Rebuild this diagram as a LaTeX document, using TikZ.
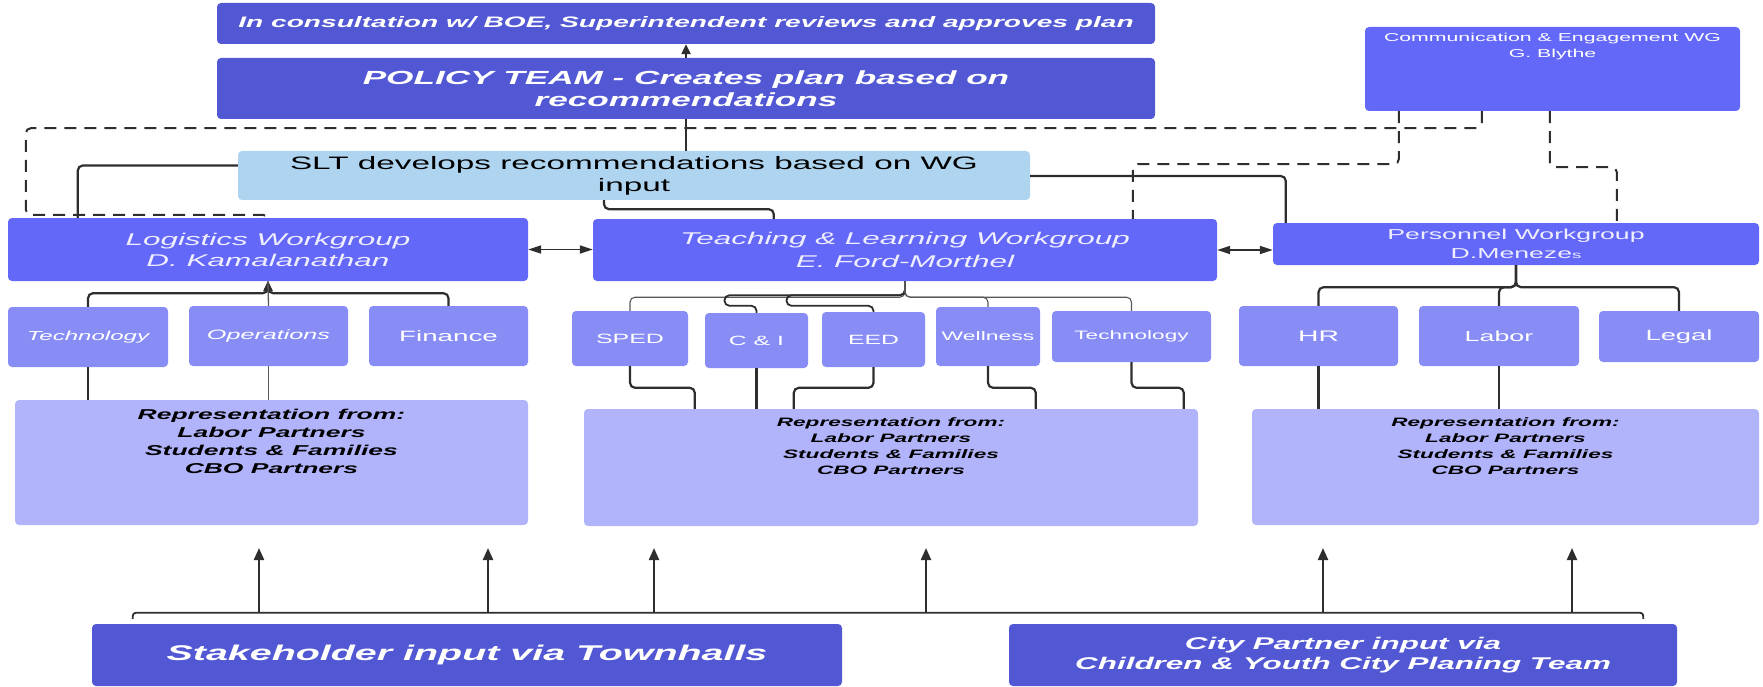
\documentclass[tikz,border=0pt]{standalone}
\usepackage{fontspec}
\setmainfont{Liberation Sans}[FakeStretch=1.85]
\usetikzlibrary{calc,arrows.meta}
\definecolor{darkbox}{RGB}{82,88,212}
\definecolor{wgbox}{RGB}{100,104,249}
\definecolor{subbox}{RGB}{136,141,246}
\definecolor{repbox}{RGB}{178,180,251}
\definecolor{sltc}{RGB}{175,212,239}
\definecolor{linec}{RGB}{46,46,46}
\definecolor{wgtext}{RGB}{238,238,255}
\tikzset{
  box/.style={rounded corners=4pt, inner sep=0pt, align=center, text=white},
  darkb/.style={box, fill=darkbox},
  wgb/.style={box, fill=wgbox, text=wgtext},
  subb/.style={box, fill=subbox, text=white},
  repb/.style={box, fill=repbox},
  reptext/.style={align=center, inner sep=0pt, text=black},
  conn/.style={draw=linec, line width=2.2pt, rounded corners=5pt},
  thinc/.style={draw=linec!80, line width=1.1pt, rounded corners=5pt},
  dconn/.style={draw=linec, line width=2pt, dash pattern=on 12pt off 8pt, rounded corners=5pt},
  arr/.style={-{Triangle[length=10pt,width=9pt]}},
  darr/.style={{Triangle[length=13pt,width=8pt]}-{Triangle[length=13pt,width=8pt]}},
  upc/.style={draw=linec, line width=2.2pt, -{Triangle[length=12pt,width=10pt]}}
}
\begin{document}
\begin{tikzpicture}[x=1pt,y=-1pt]
\useasboundingbox (0,0) rectangle (1763,687);

% top level
\node[darkb, minimum width=938pt, minimum height=41pt, font=\fontsize{15.2}{18}\selectfont\bfseries\itshape] (top) at (686,23.5) {In consultation w/ BOE, Superintendent reviews and approves plan};
\node[darkb, minimum width=938pt, minimum height=61pt, font=\fontsize{19}{22}\selectfont\bfseries\itshape] (policy) at (686,88.5) {POLICY TEAM - Creates plan based on\\recommendations};
\node[box, fill=sltc, text=black, minimum width=792pt, minimum height=49pt, font=\fontsize{18}{22}\selectfont] (slt) at (634,175.5) {SLT develops recommendations based on WG\\input};
\node[wgb, minimum width=375pt, minimum height=84pt] (comm) at (1552.5,69) {};
\node[align=center, inner sep=0pt, text=white, font=\fontsize{11.5}{16}\selectfont] (commt) at (1552.5,47) {Communication \& Engagement WG\\G. Blythe};

% workgroups
\node[wgb, minimum width=520pt, minimum height=63pt, font=\fontsize{17}{21}\selectfont\itshape] (logi) at (268,249.5) {Logistics Workgroup\\D. Kamalanathan};
\node[wgb, minimum width=624pt, minimum height=62pt, font=\fontsize{17}{23}\selectfont\itshape] (tl) at (905,250) {Teaching \& Learning Workgroup\\E. Ford-Morthel};
\node[wgb, minimum width=486pt, minimum height=42pt, font=\fontsize{14.4}{19}\selectfont] (pers) at (1516,244) {Personnel Workgroup\\D.Meneze{\fontsize{10}{10}\selectfont s}};

% sub-groups
\node[subb, minimum width=160pt, minimum height=60pt, font=\fontsize{13}{15}\selectfont\itshape] (tech1) at (88,337) {Technology};
\node[subb, minimum width=159pt, minimum height=60pt, font=\fontsize{13.6}{15}\selectfont\itshape] (ops) at (268.5,336) {Operations};
\node[subb, minimum width=159pt, minimum height=60pt, font=\fontsize{15}{17}\selectfont] (fin) at (448.5,336) {Finance};
\node[subb, minimum width=116pt, minimum height=55pt, font=\fontsize{13.5}{15}\selectfont] (sped) at (630,338.5) {SPED};
\node[subb, minimum width=103pt, minimum height=55pt, font=\fontsize{13.4}{15}\selectfont] (ci) at (756.5,340.5) {C \& I};
\node[subb, minimum width=103pt, minimum height=55pt, font=\fontsize{13.4}{15}\selectfont] (eed) at (873.5,339.5) {EED};
\node[subb, minimum width=104pt, minimum height=59pt, font=\fontsize{12.4}{15}\selectfont] (well) at (988,336.5) {Wellness};
\node[subb, minimum width=159pt, minimum height=51pt, font=\fontsize{12.2}{15}\selectfont] (tech2) at (1131.5,336.5) {Technology};
\node[subb, minimum width=159pt, minimum height=60pt, font=\fontsize{15.3}{17}\selectfont] (hr) at (1318.5,336) {HR};
\node[subb, minimum width=160pt, minimum height=60pt, font=\fontsize{14.5}{17}\selectfont] (labor) at (1499,336) {Labor};
\node[subb, minimum width=160pt, minimum height=51pt, font=\fontsize{14.8}{17}\selectfont] (legal) at (1679,336.5) {Legal};

% representation boxes
\node[repb, minimum width=513pt, minimum height=125pt] (repL) at (271.5,462.5) {};
\node[repb, minimum width=614pt, minimum height=117pt] (repM) at (891,467.5) {};
\node[repb, minimum width=507pt, minimum height=116pt] (repR) at (1505.5,467) {};
\node[reptext, font=\fontsize{14.3}{18}\selectfont\bfseries\itshape] (repLt) at (271.5,441) {Representation from:\\Labor Partners\\Students \& Families\\CBO Partners};
\node[reptext, font=\fontsize{12.2}{16}\selectfont\bfseries\itshape] (repMt) at (891,446.5) {Representation from:\\Labor Partners\\Students \& Families\\CBO Partners};
\node[reptext, font=\fontsize{12.2}{16}\selectfont\bfseries\itshape] (repRt) at (1505.5,446.5) {Representation from:\\Labor Partners\\Students \& Families\\CBO Partners};

% bottom inputs
\node[darkb, minimum width=750pt, minimum height=62pt, font=\fontsize{21.3}{24}\selectfont\bfseries\itshape] (stake) at (467,655) {Stakeholder input via Townhalls};
\node[darkb, minimum width=668pt, minimum height=62pt, font=\fontsize{17}{20}\selectfont\bfseries\itshape] (city) at (1343,655) {City Partner input via\\Children \& Youth City Planing Team};

% ---- connectors: top
\draw[conn, arr, rounded corners=0pt] (policy.north) -- (top.south);
\draw[conn] (policy.south |- slt.north) -- (policy.south);
\draw[conn] ($(slt.west)+(0,-10)$) -| ($(logi.north west)+(70,0)$);
\draw[conn] ($(slt.south)+(-30,0)$) -- ++(0,9) -| ($(tl.north west)+(181,0)$);
\draw[conn] ($(slt.east)+(0,0.5)$) -| ($(pers.north west)+(13,0)$);

% dashed from communication WG
\draw[dconn] ($(comm.south west)+(117,0)$) -- ++(0,17) -| ($(logi.north west)+(18,-3)$) -| (logi.north);
\draw[dconn] ($(comm.south west)+(34,0)$) -- ++(0,53) -| ($(tl.north west)+(540,0)$);
\draw[dconn] ($(comm.south west)+(185,0)$) -- ++(0,56) -| ($(pers.north west)+(344,0)$);

% workgroup links
\draw[conn, line width=1.8pt, darr] (logi.east) -- (logi.east -| tl.west);
\draw[conn, line width=1.8pt, darr] (tl.east) -- (tl.east -| pers.west);

% logistics tree
\coordinate (lj) at ($(logi.south)+(0,12)$);
\draw[conn, arr] (tech1.north) |- (lj) -- (logi.south);
\draw[conn, arr] (fin.north) |- (lj) -- (logi.south);
\draw[thinc, line width=1.3pt] (ops.north) -- (logi.south);
\draw[conn] (tech1.south) -- (tech1.south |- repL.north);
\draw[thinc, line width=1.3pt] (ops.south) -- (ops.south |- repL.north);
\draw[conn] ($(fin.south)+(-4,0)$) -- ($(fin.south)+(-4,0)$ |- repL.north);

% teaching & learning tree
\draw[thinc] (tl.south) -- ++(0,16) -| (sped.north);
\draw[conn, line width=1.8pt] (tl.south) -- ++(0,14) -| ($(ci.north)+(-32,-7)$) -| (ci.north);
\draw[conn, line width=1.8pt] (tl.south) -- ++(0,14) -| ($(eed.north)+(-87,-6)$) -| (eed.north);
\draw[thinc] (tl.south) -- ++(0,16) -| (well.north);
\draw[thinc] (tl.south) -- ++(0,16) -| (tech2.north);
\coordinate (m1) at ($(repM.north west)+(111,0)$);
\coordinate (m3) at ($(repM.north west)+(210,0)$);
\coordinate (m4) at ($(repM.north west)+(452,0)$);
\coordinate (m5) at ($(repM.north west)+(600,0)$);
\draw[conn] (sped.south) |- ($(m1)+(0,-21)$) -- (m1);
\draw[conn] (ci.south) -- (ci.south |- repM.north);
\draw[conn] (eed.south) |- ($(m3)+(0,-21)$) -- (m3);
\draw[conn] (well.south) |- ($(m4)+(0,-21)$) -- (m4);
\draw[conn] (tech2.south) |- ($(m5)+(0,-21)$) -- (m5);

% personnel tree
\draw[conn] (pers.south) -- ++(0,22) -| (hr.north);
\draw[conn] (pers.south) -- ++(0,22) -| (labor.north);
\draw[conn] (pers.south) -- ++(0,22) -| (legal.north);
\draw[conn] (hr.south) -- (hr.south |- repR.north);
\draw[conn] (labor.south) -- (labor.south |- repR.north);
\draw[conn] ($(legal.south)+(11,0)$) -- ($(legal.south)+(11,0)$ |- repR.north);

% bottom bus and arrows
\coordinate (busL) at ($(stake.north west)+(41,-5)$);
\coordinate (busR) at ($(city.north east)+(-34,-5)$);
\draw[conn, line width=1.8pt, rounded corners=3pt] (busL) -- ++(0,-6) -- ($(busR)+(0,-6)$) -- (busR);
\foreach \i/\x in {1/259,2/488,3/654,4/926,5/1323,6/1572}{
  \coordinate (s\i) at (\x,613);
  \coordinate (t\i) at (\x,548);
  \draw[upc] (s\i) -- (t\i);
}
\end{tikzpicture}
\end{document}
